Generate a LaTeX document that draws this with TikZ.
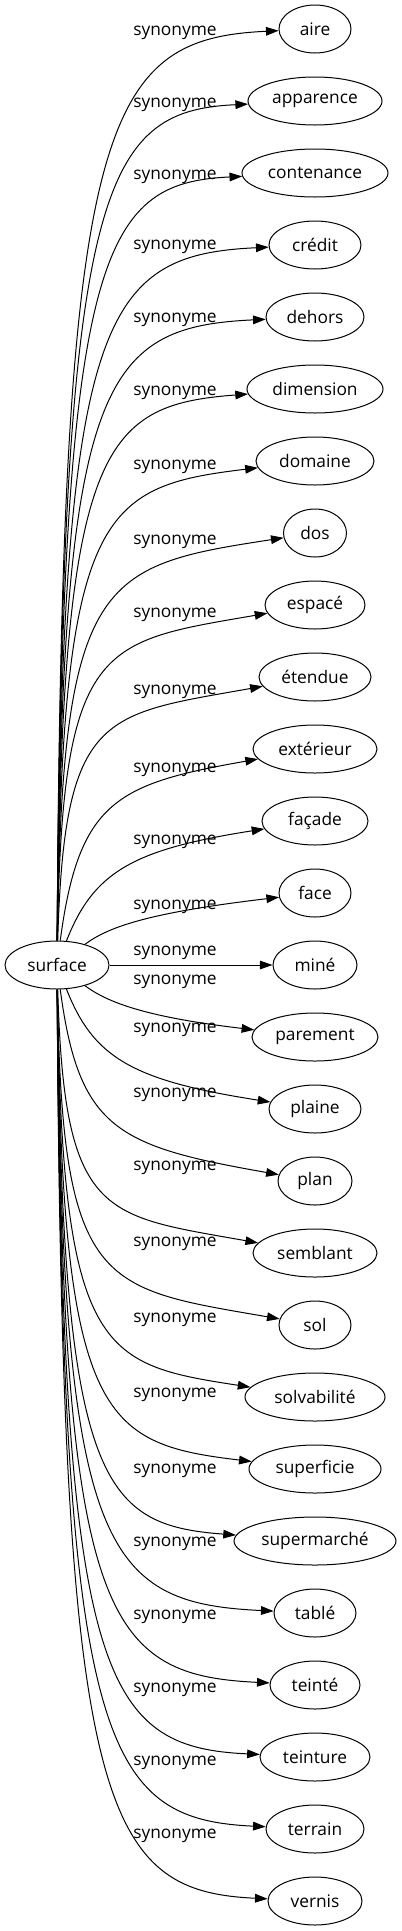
\documentclass[tikz,border=0pt]{standalone}
\usepackage{fontspec}
\setmainfont{Open Sans}
\usetikzlibrary{arrows.meta,shapes.geometric}
\begin{document}
\begin{tikzpicture}[x=0.75pt,y=-0.75pt,
  wnode/.style={draw, ellipse, line width=0.75pt, inner sep=0pt, minimum height=36pt, font=\fontsize{13}{15}\selectfont},
  lbl/.style={font=\fontsize{13}{15}\selectfont, inner sep=0pt},
  syn/.style={line width=0.75pt, -{Triangle[length=9.5pt,width=6.5pt]}}]
\useasboundingbox (0,0) rectangle (402,1931);
\node[wnode, minimum width=78pt] (s) at (57,965) {surface};
\foreach \i/\t/\r/\ly in {1/aire/36/33, 2/apparence/67/105, 3/contenance/73/177, 4/crédit/46/247,
  5/dehors/49/320, 6/dimension/68/393, 7/domaine/59/467, 8/dos/31.5/542, 9/espacé/50/615,
  10/étendue/56/692, 11/extérieur/62/770, 12/façade/53/842, 13/face/36/907, 14/miné/42/953,
  15/parement/63/982, 16/plaine/46/1030, 17/plan/37/1095, 18/semblant/62/1168, 19/sol/36/1244,
  20/solvabilité/70/1320, 21/superficie/66/1395, 22/supermarché/81/1471, 23/tablé/41/1544,
  24/teinté/45/1617, 25/teinture/55/1690, 26/terrain/49/1763, 27/vernis/47/1836} {
  \pgfmathsetmacro{\ty}{29+72*(\i-1)}
  \pgfmathsetmacro{\mw}{2*\r*0.75}
  \node[wnode, minimum width=\mw pt] (n\i) at (315,\ty) {\t};
  \node[lbl] (l\i) at (175,\ly) {synonyme};
  \pgfmathsetmacro{\dy}{abs(965-\ty)}
  \pgfmathsetmacro{\sg}{sign(\ty-965)}
  \pgfmathsetmacro{\w}{min(1,\dy/300)}
  \pgfmathsetmacro{\h}{10+28*sin(min(\dy,620)/620*180)}
  \pgfmathsetmacro{\cax}{62+(1-\w)*60}
  \pgfmathsetmacro{\cay}{\ty-\sg*\dy*(0.1+(1-\w)*0.5)}
  \pgfmathsetmacro{\cbx}{100+(1-\w)*60}
  \pgfmathsetmacro{\cby}{\ty-\sg*\h}
  \draw[syn] (s) .. controls (\cax,\cay) and (\cbx,\cby) .. (n\i);
}
\end{tikzpicture}
\end{document}
